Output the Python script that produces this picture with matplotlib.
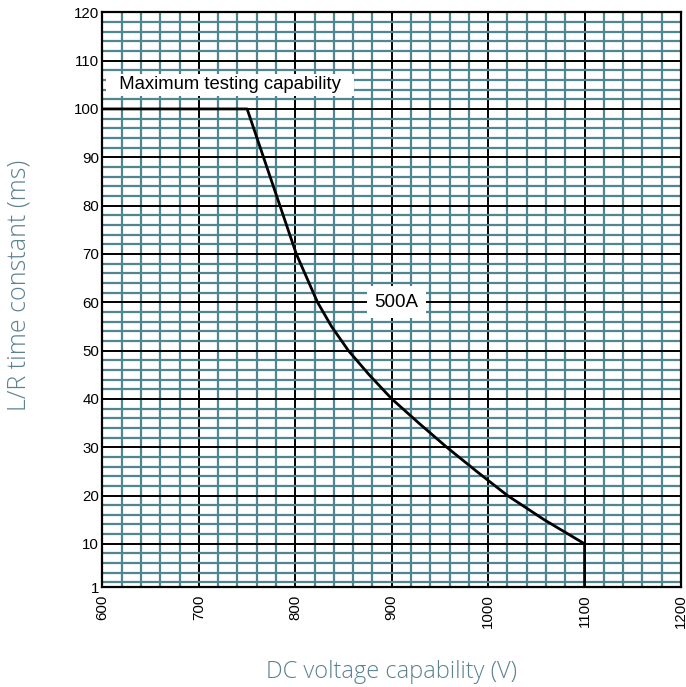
import numpy as np
import matplotlib.pyplot as plt
from matplotlib.ticker import MultipleLocator, FixedLocator

# data
tension = [600, 750, 767, 784, 801, 823, 837.5, 855, 876.5, 900, 928, 957, 988, 1020, 1058, 1100, 1100]
constante = [100, 100, 90, 80, 70, 60, 55, 50, 45, 40, 35, 30, 25, 20, 15, 10, 1]

yticks = [1, 10, 20, 30, 40, 50, 60, 70, 80, 90, 100, 110, 120]
xticks = [600, 700, 800, 900, 1000, 1100, 1200]

label_max = "  Maximum testing capability  "
label_courant = "500A"

teal = "#4f8690"
gris_bleu = "#5b8290"

fig = plt.figure(figsize=(6.86, 6.87), dpi=100)
ax = fig.add_axes([0.1494, 0.1451, 0.8433, 0.8370])

ax.set_xlim(600, 1200)
ax.set_ylim(1, 120)

ax.xaxis.set_major_locator(FixedLocator(xticks))
ax.yaxis.set_major_locator(FixedLocator(yticks))
ax.xaxis.set_minor_locator(MultipleLocator(20))
ax.yaxis.set_minor_locator(FixedLocator(list(range(2, 120, 2))))

ax.grid(which="minor", color=teal, linewidth=1.6, zorder=0)
ax.grid(which="major", color="black", linewidth=1.4, zorder=1)
ax.set_axisbelow(True)

ax.plot(tension, constante, color="black", linewidth=2, zorder=3,
        solid_joinstyle="round")

ax.text(732, 105, label_max, ha="center", va="center", fontsize=13.3,
        family="Liberation Sans", zorder=4,
        bbox=dict(boxstyle="square,pad=0.15", facecolor="white", edgecolor="none"))
ax.text(905, 60, label_courant, ha="center", va="center", fontsize=13.5,
        family="Liberation Sans", zorder=4,
        bbox=dict(boxstyle="square,pad=0.4", facecolor="white", edgecolor="none"))

for s in ax.spines.values():
    s.set_linewidth(1.6)
    s.set_color("black")

ax.tick_params(which="both", length=0)
ax.tick_params(axis="y", pad=2.5)
ax.tick_params(axis="x", pad=5)
for t in ax.get_xticklabels():
    t.set_rotation(90)
for t in ax.get_xticklabels() + ax.get_yticklabels():
    t.set_fontsize(10.8)
    t.set_family("Liberation Sans")

# titres des axes places a la main
fig.text(391.5 / 686, 1 - 678 / 687, "DC voltage capability (V)", fontsize=17,
         color=gris_bleu, family="Open Sans", fontweight="light",
         ha="center", va="baseline")
fig.text(19 / 686, 1 - 285.5 / 687, "L/R time constant (ms)", fontsize=18,
         color=gris_bleu, family="Open Sans", fontweight="light",
         rotation=90, ha="center", va="center")

plt.savefig("out.png", dpi=100)
